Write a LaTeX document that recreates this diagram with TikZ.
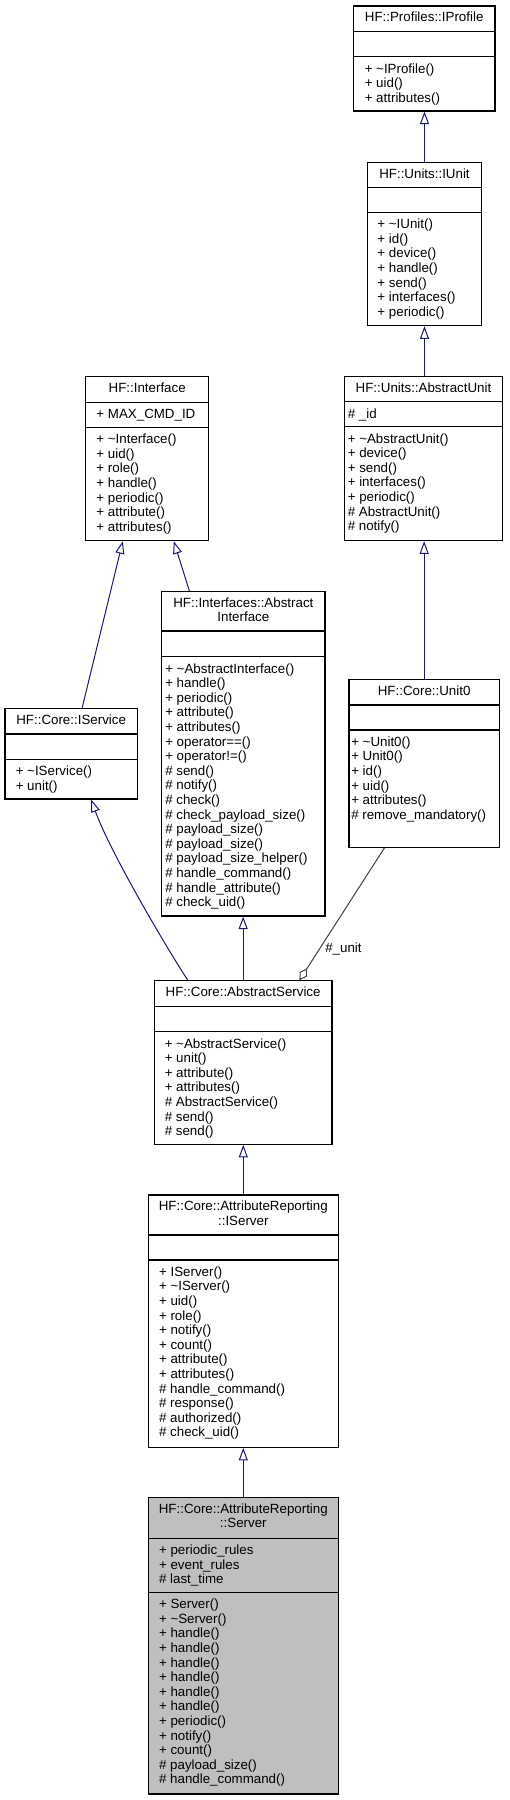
\documentclass[tikz,border=0pt]{standalone}
\usepackage{fontspec}
\setmainfont{Liberation Sans}
\usetikzlibrary{fit,arrows.meta,calc}
\definecolor{edgeblue}{RGB}{25,25,112}
\definecolor{edgegrey}{RGB}{64,64,64}
\definecolor{selfill}{RGB}{191,191,191}
\tikzset{
  box/.style={draw=black, line width=0.8pt, inner sep=0pt, fill=#1},
  box/.default=white,
  divline/.style={draw=black, line width=0.8pt},
  txt/.style={anchor=base west, inner sep=0pt, font=\fontsize{10pt}{11pt}\selectfont},
  ttl/.style={anchor=base, inner sep=0pt, font=\fontsize{10pt}{11pt}\selectfont},
  inh/.style={draw=edgeblue, line width=0.75pt, -{Triangle[fill=white, length=9.4pt, width=6.75pt, line width=0.75pt]}},
  agg/.style={draw=edgegrey, line width=0.75pt, -{Diamond[fill=white, length=10.5pt, width=6.5pt, line width=0.75pt]}},
}
\newcommand\umlclass[8][white]{%
  \node[box=#1, fit={(#3,#4)(#5,#6)}] (#2) {};
  \draw[divline] (#3,#7) -- (#5,#7);
  \draw[divline] (#3,#8) -- (#5,#8);
}
\newcommand\rows[4]{%
  \foreach \t [count=\i from 0] in {#4} {\node[txt] (#1-\i) at (#2, #3+\i*14.6) {\t};}
}
\begin{document}
\begin{tikzpicture}[x=0.75pt, y=-0.75pt]
\useasboundingbox (0,0) rectangle (510,1800);

% IProfile
\umlclass{iprofile}{353.3}{6}{495}{111}{31.7}{56.7}
\node[ttl] (iprofile-t) at (424.15,21.7) {HF::Profiles::IProfile};
\rows{iprofile-m}{364.5}{73}{+ \textasciitilde IProfile(), + uid(), + attributes()}

% IUnit
\umlclass{iunit}{367.3}{162.3}{481.7}{325.7}{187.3}{212.3}
\node[ttl] (iunit-t) at (424.5,178) {HF::Units::IUnit};
\rows{iunit-m}{377.2}{228.6}{+ \textasciitilde IUnit(), + id(), + device(), + handle(), + send(), + interfaces(), + periodic()}

% AbstractUnit
\umlclass{aunit}{344.3}{376.3}{502.7}{540.7}{401.7}{426.7}
\node[ttl] (aunit-t) at (423.5,392) {HF::Units::AbstractUnit};
\rows{aunit-a}{347.5}{418}{\# \_id}
\rows{aunit-m}{347.5}{443}{+ \textasciitilde AbstractUnit(), + device(), + send(), + interfaces(), + periodic(), \# AbstractUnit(), \# notify()}

% Interface
\umlclass{iface}{85.7}{376.3}{208.7}{540.7}{402.3}{427.3}
\node[ttl] (iface-t) at (147.2,392.2) {HF::Interface};
\rows{iface-a}{96.2}{418.6}{+ MAX\_CMD\_ID}
\rows{iface-m}{96.2}{443.6}{+ \textasciitilde Interface(), + uid(), + role(), + handle(), + periodic(), + attribute(), + attributes()}

% IService
\umlclass{iservice}{5}{708.3}{137.3}{799}{734}{759.3}
\node[ttl] (iservice-t) at (71.15,724) {HF::Core::IService};
\rows{iservice-m}{15.5}{775.6}{+ \textasciitilde IService(), + unit()}

% AbstractInterface
\umlclass{aiface}{161.7}{591.7}{325}{916}{631}{656.7}
\node[ttl] (aiface-t1) at (243.35,607.2) {HF::Interfaces::Abstract};
\node[ttl] (aiface-t2) at (243.35,621.8) {Interface};
\rows{aiface-m}{165}{673}{+ \textasciitilde AbstractInterface(), + handle(), + periodic(), + attribute(), + attributes(), + operator==(), + operator!=(), \# send(), \# notify(), \# check(), \# check\_payload\_size(), \# payload\_size(), \# payload\_size(), \# payload\_size\_helper(), \# handle\_command(), \# handle\_attribute(), \# check\_uid()}

% Unit0
\umlclass{unit0}{349}{679.3}{499.3}{847.3}{705}{730}
\node[ttl] (unit0-t) at (424.15,695) {HF::Core::Unit0};
\rows{unit0-m}{351}{746.3}{+ \textasciitilde Unit0(), + Unit0(), + id(), + uid(), + attributes(), \# remove\_mandatory()}

% AbstractService
\umlclass{aservice}{154.3}{980.7}{332}{1144.3}{1006.7}{1031.7}
\node[ttl] (aservice-t) at (243.15,996.4) {HF::Core::AbstractService};
\rows{aservice-m}{164.5}{1048}{+ \textasciitilde AbstractService(), + unit(), + attribute(), + attributes(), \# AbstractService(), \# send(), \# send()}

% IServer
\umlclass{iserver}{148.3}{1195}{338.3}{1447.3}{1235}{1260}
\node[ttl] (iserver-t1) at (243.3,1210.5) {HF::Core::AttributeReporting};
\node[ttl] (iserver-t2) at (243.3,1225.1) {::IServer};
\rows{iserver-m}{158.8}{1276.3}{+ IServer(), + \textasciitilde IServer(), + uid(), + role(), + notify(), + count(), + attribute(), + attributes(), \# handle\_command(), \# response(), \# authorized(), \# check\_uid()}

% Server
\umlclass[selfill]{server}{148.3}{1497.7}{338.3}{1794}{1538.3}{1592.3}
\node[ttl] (server-t1) at (243.3,1513.2) {HF::Core::AttributeReporting};
\node[ttl] (server-t2) at (243.3,1527.8) {::Server};
\rows{server-a}{158.8}{1554.6}{+ periodic\_rules, + event\_rules, \# last\_time}
\rows{server-m}{158.8}{1608.6}{+ Server(), + \textasciitilde Server(), + handle(), + handle(), + handle(), + handle(), + handle(), + handle(), + periodic(), + notify(), + count(), \# payload\_size(), \# handle\_command()}

% Edges
\draw[inh] (iunit.north) -- (iunit.north |- iprofile.south);
\draw[inh] (iunit.south |- aunit.north) -- (iunit.south);
\draw[inh] (unit0.north) -- (unit0.north |- aunit.south);
\draw[inh] ($(iservice.north west)+(77.7,0)$) -- ($(iface.south west)+(37.6,0)$);
\draw[inh] ($(aiface.north west)+(28.3,0)$) -- ($(iface.south west)+(88.6,0)$);
\draw[inh] ($(aservice.north west)+(34,0)$) .. controls ($(aservice.north west)+(10.7,-35.7)$) and ($(iservice.south west)+(105,51)$) .. ($(iservice.south west)+(86.7,0)$);
\draw[inh] (aservice.north) -- (aservice.north |- aiface.south);
\draw[inh] (iserver.north) -- (iserver.north |- aservice.south);
\draw[inh] (server.north) -- (server.north |- iserver.south);
\draw[agg] ($(unit0.south west)+(36,0)$) -- ($(aservice.north west)+(145.7,0)$);
\node[txt] (unitlbl) at (325,952.6) {\#\_unit};
\end{tikzpicture}
\end{document}
